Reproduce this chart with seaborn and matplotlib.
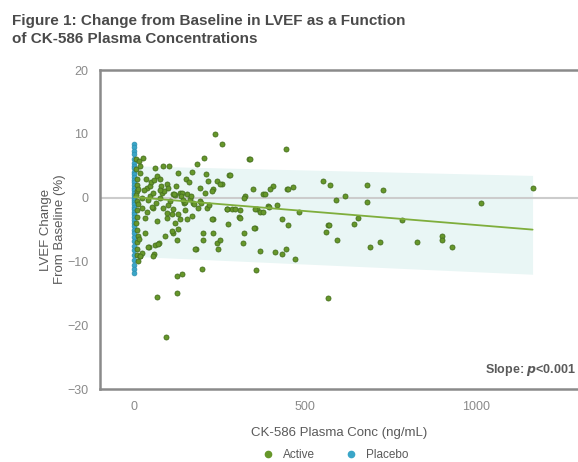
import numpy as np
import pandas as pd
import matplotlib
matplotlib.use("Agg")
import matplotlib.pyplot as plt
from matplotlib.ticker import MultipleLocator
import seaborn as sns

# Active arm: plasma conc (ng/mL) and LVEF change (%)
# (each line of conc matches the same line of lvef)
active_conc = [
    5, 6, 8, 7, 9, 6, 8, 10, 7, 9,
    6, 8, 10, 7, 9, 8, 12, 26, 15, 18,
    61, 85, 102, 129, 184, 205, 170, 211, 278, 336,
    35, 67, 76, 38, 96, 123, 152, 135, 155, 193,
    208, 231, 243, 257, 348, 377, 406, 447, 465, 325,
    23, 47, 76, 105, 164, 173, 187, 193, 23, 38,
    56, 85, 114, 129, 149, 213, 287, 310, 360, 368,
    392, 418, 482, 32, 67, 96, 120, 155, 231, 307,
    275, 354, 433, 450, 32, 91, 114, 126, 202, 231,
    202, 322, 319, 44, 61, 73, 181, 243, 246, 368,
    412, 433, 444, 471, 58, 18, 23, 18, 56, 126,
    140, 199, 67, 126, 94, 357, 237, 257, 444, 339,
    281, 251, 398, 450, 383, 322, 272, 295, 354, 377,
    395, 272, 310, 351, 567, 553, 573, 681, 728, 591,
    617, 681, 655, 784, 570, 561, 643, 594, 719, 690,
    827, 567, 1167, 1015, 901, 901, 930, 18, 47, 99,
    228, 56, 82, 114, 140, 111, 129, 178, 135, 170,
    41, 70, 215, 228, 251, 30, 50, 65, 80, 100,
    120, 145, 160, 175, 42, 58, 88, 110, 138, 150,
    168, 52, 75, 95, 118, 142, 196, 220, 12, 14,
]
active_lvef = [
    6.0, 4.5, 3.0, 2.0, 1.0, 0.5, -0.5, -1.0, -2.0, -3.0,
    -4.0, -5.0, -6.0, -7.0, -8.0, -9.0, -10.0, 6.3, 5.8, 5.0,
    4.7, 4.9, 4.9, 3.9, 5.3, 6.3, 4.1, 3.8, 3.6, 6.0,
    3.0, 3.4, 3.0, 1.6, 2.2, 1.9, 3.0, 0.8, 0.6, 1.6,
    0.8, 1.4, 2.7, 2.2, 1.4, 0.6, 1.9, 1.4, 1.7, 0.2,
    0.0, 0.3, 0.0, -0.5, -0.2, -0.9, -1.6, -0.5, -1.6, -2.3,
    -1.6, -1.6, -1.7, -2.5, -2.0, -1.6, -1.7, -2.0, -1.7, -2.3,
    -1.3, -1.1, -2.2, -3.1, -3.6, -3.1, -3.9, -3.3, -3.4, -3.0,
    -4.1, -4.7, -3.4, -4.2, -5.6, -6.0, -5.5, -6.7, -5.6, -5.5,
    -6.7, -5.5, -7.1, -7.8, -7.4, -7.1, -8.0, -7.1, -8.0, -8.3,
    -8.5, -8.8, -8.0, -9.6, -8.8, -9.2, -8.6, -9.1, -9.1, -12.2,
    -11.9, -11.1, -15.5, -14.9, -21.8, -11.3, 10.0, 8.5, 7.7, 6.0,
    3.6, 2.2, 1.4, 1.4, 0.6, 0.0, -1.7, -1.7, -1.7, -2.2,
    -1.4, -1.7, -3.1, -4.7, -4.2, 2.7, 2.0, 2.0, 1.2, -0.3,
    0.2, -0.6, -3.1, -3.5, -4.2, -5.3, -4.1, -6.6, -6.9, -7.8,
    -7.0, -15.8, 1.6, -0.9, -6.0, -6.7, -7.8, 3.9, 1.9, 1.6,
    1.1, 0.8, 0.8, 0.6, 0.8, -5.2, -4.9, -8.0, -3.3, -2.8,
    -7.8, -7.2, 2.7, -3.3, -6.7, 1.2, 2.5, -0.8, 1.8, -1.2,
    0.4, -0.8, 2.4, -1.0, -0.3, 2.8, 1.0, -2.6, 0.2, -0.6,
    0.3, -1.4, 1.2, -2.4, 0.6, -0.4, -0.9, -1.2, 1.4, -6.5,
]

# Placebo arm: all at 0 ng/mL
placebo_lvef = [
    8.5, 8.0, 7.4, 6.8, 6.1, 5.5, 5.0, 4.6, 4.1, 3.7, 3.2, 2.8, 2.4, 2.0,
    1.6, 1.2, 0.8, 0.4, 0.0, -0.3, -0.7, -1.0, -1.4, -1.8, -2.2, -2.6, -3.0,
    -3.5, -4.0, -4.5, -5.0, -5.6, -6.2, -6.8, -7.5, -8.2, -9.0, -9.8, -10.5,
    -11.2, -11.8,
]

# regression line and its band
fit_conc = [0, 1167]
fit_lvef = [0.1, -5.0]
band_lo = [-9.2, -12.0]
band_hi = [5.0, 3.5]

df = pd.DataFrame({
    "conc": list(active_conc) + [0] * len(placebo_lvef),
    "lvef": list(active_lvef) + list(placebo_lvef),
    "group": ["Active"] * len(active_conc) + ["Placebo"] * len(placebo_lvef),
})

sns.set_style("white")
plt.rcParams["font.family"] = ["Liberation Sans", "DejaVu Sans"]

grey = "#5a5a5a"
green = "#66972a"
blue = "#3aa6c8"

fig = plt.figure(figsize=(5.78, 4.62), dpi=100)
ax = fig.add_axes([0.173, 0.158, 0.827, 0.69])

ax.fill_between(fit_conc, band_lo, band_hi, color="#e9f6f5", lw=0, zorder=1)
ax.axhline(0, color="#cccccc", lw=1.5, zorder=1)

# placebo first so the active points sit on top near zero
sns.scatterplot(data=df[df.group == "Placebo"], x="conc", y="lvef",
                color=blue, s=12, edgecolor="#2f8fae", linewidth=0.5,
                ax=ax, zorder=3, legend=False)
sns.scatterplot(data=df[df.group == "Active"], x="conc", y="lvef",
                color=green, s=13, edgecolor="#46701f", linewidth=0.6,
                ax=ax, zorder=3, legend=False)

ax.plot(fit_conc, fit_lvef, color="#7fae3c", lw=1.3, zorder=4)

ax.set_xlim(-100, 1300)
ax.set_ylim(-30, 20)
ax.xaxis.set_major_locator(MultipleLocator(500))
ax.xaxis.set_minor_locator(MultipleLocator(100))
ax.yaxis.set_major_locator(MultipleLocator(10))

for side in ["left", "bottom", "top"]:
    ax.spines[side].set_color("#8a8a8a")
    ax.spines[side].set_linewidth(1.8)
ax.spines["right"].set_visible(False)

ax.tick_params(axis="both", which="major", direction="out", length=5,
               width=1.5, color="#8a8a8a", labelcolor="#8a8a8a", labelsize=9)
ax.tick_params(axis="x", which="minor", direction="out", length=3,
               width=1.2, color="#8a8a8a")
ax.tick_params(axis="x", which="both", top=False)

ax.set_xlabel("CK-586 Plasma Conc (ng/mL)", color=grey, fontsize=9.5, labelpad=10)
ax.set_ylabel("LVEF Change\nFrom Baseline (%)", color=grey, fontsize=9.5, labelpad=1)

ax.text(0.995, 0.035, "Slope: $\\mathbfit{p}$<0.001", transform=ax.transAxes,
        ha="right", va="bottom", fontsize=9, fontweight="bold", color=grey)

fig.text(0.02, 0.97, "Figure 1: Change from Baseline in LVEF as a Function\nof CK-586 Plasma Concentrations",
         ha="left", va="top", fontsize=11, fontweight="bold", color="#4a4a4a",
         linespacing=1.4)

handles = [
    plt.Line2D([], [], marker="o", ls="", color=green, markersize=4.5, label="Active"),
    plt.Line2D([], [], marker="o", ls="", color=blue, markersize=4.5, label="Placebo"),
]
fig.legend(handles=handles, loc="center", bbox_to_anchor=(0.575, 0.015), ncol=2,
           frameon=False, fontsize=8.5, labelcolor=grey, handletextpad=0.3,
           columnspacing=2.0)

fig.savefig("out.png", dpi=100)
